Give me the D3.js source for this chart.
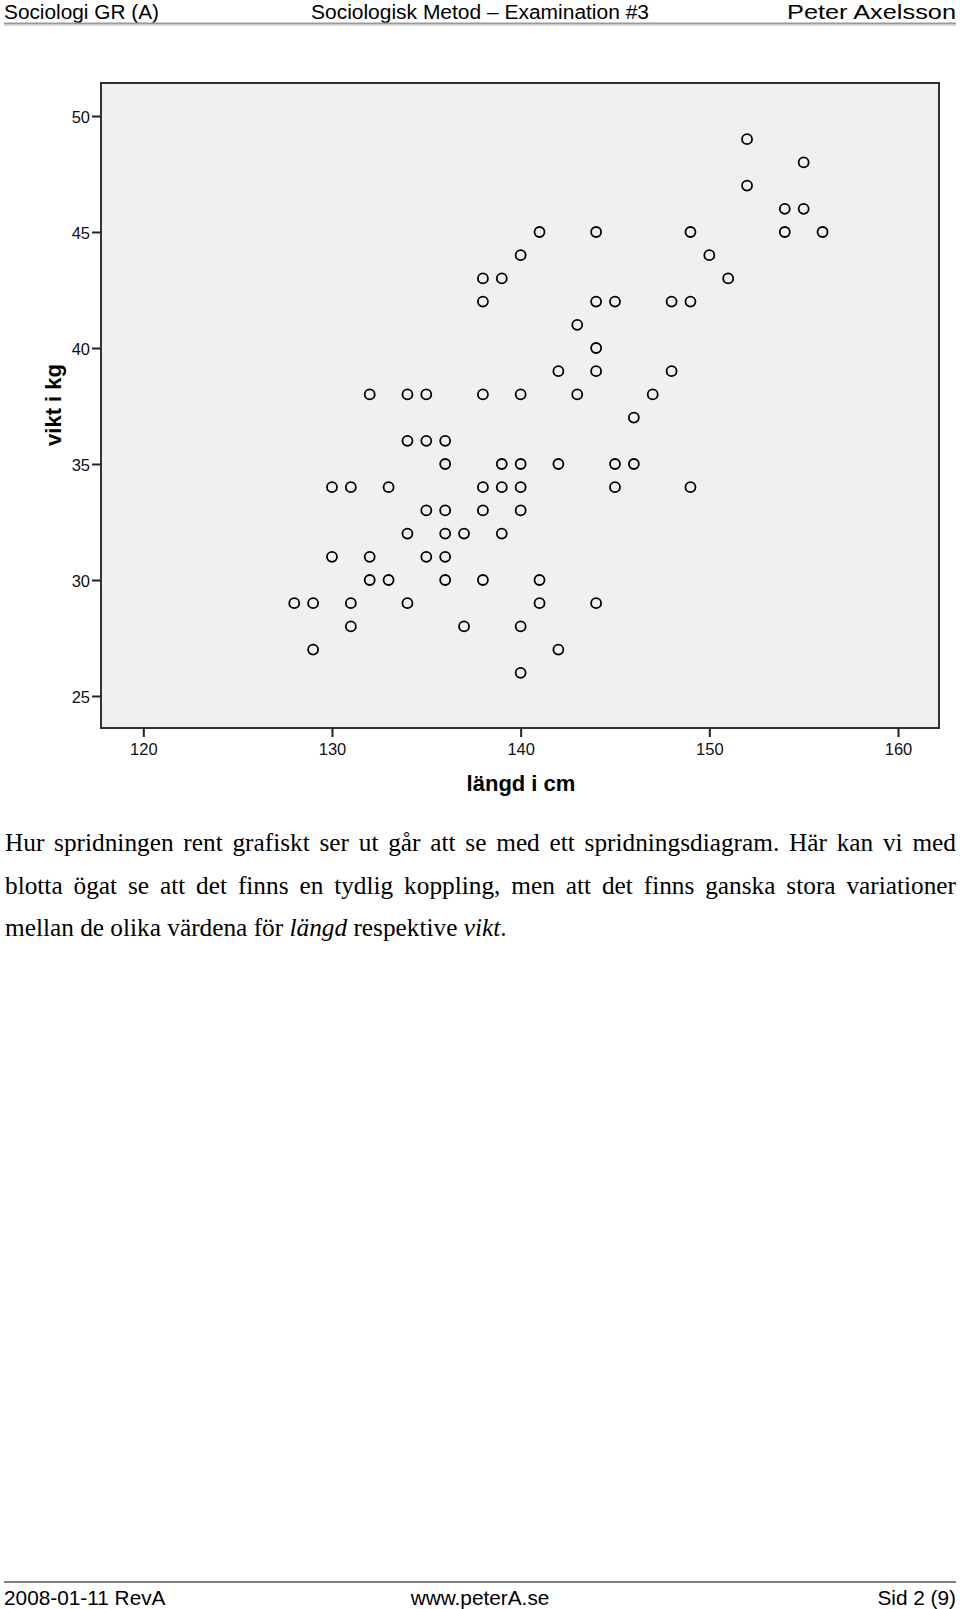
<!DOCTYPE html>
<html><head><meta charset="utf-8">
<script src="https://cdn.jsdelivr.net/npm/d3@7"></script>
<style>html,body{margin:0;padding:0;background:#fff;} svg{display:block;}</style>
</head><body><svg id="c" width="960" height="1609"></svg>
<script>
// ---- data ----
const lengthCm = [152,155,152,154,155,141,144,149,154,156,140,150,138,139,151,138,144,145,148,149,143,144,142,144,148,132,134,135,138,140,143,147,146,134,135,136,136,139,140,142,145,146,130,131,133,138,139,140,145,149,135,136,138,140,134,136,137,139,130,132,135,136,132,133,136,138,141,128,129,131,134,141,144,131,137,140,129,142,140];
const weightKg = [49,48,47,46,46,45,45,45,45,45,44,44,43,43,43,42,42,42,42,42,41,40,39,39,39,38,38,38,38,38,38,38,37,36,36,36,35,35,35,35,35,35,34,34,34,34,34,34,34,34,33,33,33,33,32,32,32,32,31,31,31,31,30,30,30,30,30,29,29,29,29,29,29,28,28,28,27,27,26];
const xTicks = [120,130,140,150,160];
const yTicks = [25,30,35,40,45,50];
const xLabel = "längd i cm";
const yLabel = "vikt i kg";
const headerTexts = ["Sociologi GR (A)", "Sociologisk Metod – Examination #3", "Peter Axelsson"];
const footerTexts = ["2008-01-11 RevA", "www.peterA.se", "Sid 2 (9)"];
const paraJustified = [
  "Hur spridningen rent grafiskt ser ut går att se med ett spridningsdiagram. Här kan vi med",
  "blotta ögat se att det finns en tydlig koppling, men att det finns ganska stora variationer"
];
const paraLast = [["mellan de olika värdena för ", false], ["längd", true], [" respektive ", false], ["vikt", true], [".", false]];

const svg = d3.select("#c");
const SANS = "'Liberation Sans', Arial, Helvetica, sans-serif";
const SERIF = "'Liberation Serif', 'Times New Roman', serif";

// ---- header ----
const hdr = svg.append("g").attr("font-family", SANS).attr("font-size", 20).attr("fill", "#000");
hdr.append("text").attr("x", 4).attr("y", 18.5).attr("textLength", 155).attr("lengthAdjust", "spacingAndGlyphs").text(headerTexts[0]);
hdr.append("text").attr("x", 311).attr("y", 18.5).attr("textLength", 338).attr("lengthAdjust", "spacingAndGlyphs").text(headerTexts[1]);
hdr.append("text").attr("x", 787).attr("y", 18.5).attr("textLength", 169).attr("lengthAdjust", "spacingAndGlyphs").text(headerTexts[2]);
svg.append("line").attr("x1", 4).attr("x2", 956).attr("y1", 23.5).attr("y2", 23.5).attr("stroke", "#9a9a9a").attr("stroke-width", 2);
svg.append("line").attr("x1", 4).attr("x2", 956).attr("y1", 25.5).attr("y2", 25.5).attr("stroke", "#dcdcdc").attr("stroke-width", 1);

// ---- chart ----
const box = {x: 101, y: 83, w: 838, h: 645};
const x = d3.scaleLinear().domain([120, 160]).range([143.3, 898]);
const y = d3.scaleLinear().domain([25, 50]).range([696, 116]);

svg.append("rect").attr("x", box.x).attr("y", box.y).attr("width", box.w).attr("height", box.h)
  .attr("fill", "#f0f0f0").attr("stroke", "#333").attr("stroke-width", 2);

const gy = svg.append("g").attr("transform", `translate(${box.x},0)`)
  .call(d3.axisLeft(y).tickValues(yTicks).tickSize(9).tickPadding(2).tickFormat(d3.format("d")));
const gx = svg.append("g").attr("transform", `translate(0,${box.y + box.h})`)
  .call(d3.axisBottom(x).tickValues(xTicks).tickSize(9).tickPadding(6).tickFormat(d3.format("d")));
[gy, gx].forEach(g => {
  g.select(".domain").remove();
  g.selectAll(".tick line").attr("stroke", "#222").attr("stroke-width", 2);
  g.selectAll(".tick text").attr("font-family", SANS).attr("font-size", 16.5).attr("fill", "#111");
});
gy.selectAll(".tick text").attr("dy", "0.4em");

svg.append("g").selectAll("circle")
  .data(lengthCm.map((v, i) => [v, weightKg[i]]))
  .join("circle")
  .attr("cx", d => x(d[0])).attr("cy", d => y(d[1]))
  .attr("r", 5).attr("fill", "none").attr("stroke", "#000").attr("stroke-width", 1.8);

svg.append("text").attr("x", 521).attr("y", 791).attr("text-anchor", "middle")
  .attr("font-family", SANS).attr("font-size", 22).attr("font-weight", "bold").text(xLabel);
svg.append("text").attr("transform", "translate(61,405) rotate(-90)").attr("text-anchor", "middle")
  .attr("font-family", SANS).attr("font-size", 22).attr("font-weight", "bold").text(yLabel);

// ---- paragraph ----
const pLeft = 5, pRight = 956, base0 = 851, lh = 42.5, pSize = 25.3;
paraJustified.forEach((line, li) => {
  const words = line.split(" ");
  const t = svg.append("text").attr("font-family", SERIF).attr("font-size", pSize).attr("y", base0 + li * lh).attr("fill", "#000");
  const spans = words.map(w => t.append("tspan").text(w));
  const widths = spans.map(s => s.node().getComputedTextLength());
  const total = d3.sum(widths);
  const gap = (pRight - pLeft - total) / (words.length - 1);
  let cx = pLeft;
  spans.forEach((s, i) => { s.attr("x", cx); cx += widths[i] + gap; });
});
const t3 = svg.append("text").attr("font-family", SERIF).attr("font-size", pSize).attr("x", pLeft).attr("y", base0 + 2 * lh).attr("fill", "#000").attr("xml:space", "preserve").style("white-space", "pre");
paraLast.forEach(([s, it]) => t3.append("tspan").attr("font-style", it ? "italic" : "normal").text(s));

// ---- footer ----
svg.append("line").attr("x1", 4).attr("x2", 956).attr("y1", 1582).attr("y2", 1582).attr("stroke", "#555").attr("stroke-width", 1.5);
const ftr = svg.append("g").attr("font-family", SANS).attr("font-size", 20.8).attr("fill", "#000");
ftr.append("text").attr("x", 4).attr("y", 1605).text(footerTexts[0]);
ftr.append("text").attr("x", 480).attr("y", 1605).attr("text-anchor", "middle").text(footerTexts[1]);
ftr.append("text").attr("x", 956).attr("y", 1605).attr("text-anchor", "end").text(footerTexts[2]);
</script>
</body></html>
